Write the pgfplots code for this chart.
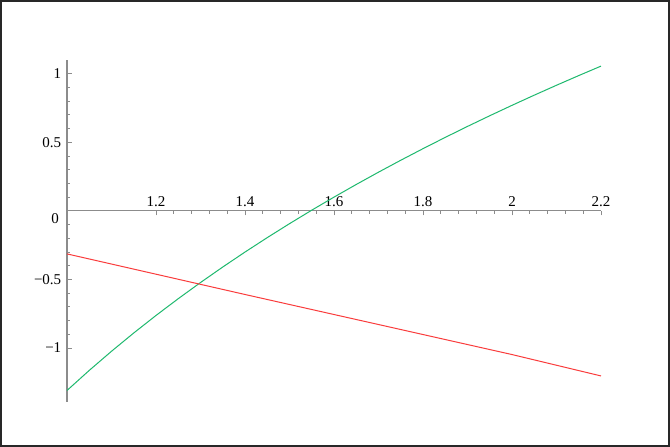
\documentclass[border=0pt]{standalone}
\usepackage{pgfplots}
\pgfplotsset{compat=1.18}
\usepackage{fontspec}
\setmainfont{Liberation Serif}
\definecolor{mgreen}{RGB}{30,185,110}
\definecolor{mred}{RGB}{250,60,60}
\definecolor{axgray}{RGB}{140,140,140}
\definecolor{framec}{RGB}{40,40,40}
\begin{document}
\begin{tikzpicture}[x=1pt,y=1pt]
\useasboundingbox (0,0) rectangle (670,447);
\fill[white] (0,0) rectangle (670,447);
\draw[framec, line width=2pt] (1,1) rectangle (669,446);
\begin{axis}[
  at={(67pt,45pt)}, anchor=south west,
  scale only axis, width=534pt, height=342pt,
  xmin=1, xmax=2.2, ymin=-1.394, ymax=1.10,
  axis x line*=middle, axis y line*=left,
  axis line style={axgray, line width=1.3pt},
  xtick={1.2,1.4,1.6,1.8,2,2.2},
  xticklabels={1.2,1.4,1.6,1.8,2,2.2},
  ytick={-1,-0.5,0,0.5,1},
  yticklabels={−1,−0.5,,0.5,1},
  minor x tick num=4, minor y tick num=4,
  tick align=center,
  major tick length=4.5pt, minor tick length=3pt,
  every tick/.style={axgray, line width=0.9pt},
  major x tick style={yshift=-2.25pt},
  minor x tick style={yshift=-1.5pt},
  major y tick style={xshift=2.25pt},
  minor y tick style={xshift=1.5pt},
  tick label style={font=\fontsize{15}{17}\selectfont},
  /pgf/number format/assume math mode=true,
  xticklabel style={anchor=south, yshift=3pt},
  yticklabel style={anchor=east},
  clip=false,
]
\addplot[mgreen, line width=1pt] coordinates {
(1.00,-1.3100) (1.05,-1.1636) (1.10,-1.0241) (1.15,-0.8907) (1.20,-0.7630)
(1.25,-0.6406) (1.30,-0.5229) (1.35,-0.4097) (1.40,-0.3006) (1.45,-0.1953)
(1.50,-0.0936) (1.55,0.0048) (1.60,0.1000) (1.65,0.1923) (1.70,0.2819)
(1.75,0.3689) (1.80,0.4534) (1.85,0.5356) (1.90,0.6156) (1.95,0.6935)
(2.00,0.7694) (2.05,0.8435) (2.10,0.9158) (2.15,0.9864) (2.20,1.0554)
};
\addplot[mred, line width=1pt] coordinates {
(1.00,-0.314) (1.20,-0.462) (1.40,-0.610) (1.60,-0.756) (1.80,-0.902)
(2.00,-1.048) (2.20,-1.204)
};
\node[anchor=north east, inner sep=0pt, font=\fontsize{15}{17}\selectfont, xshift=-8pt, yshift=-2pt] at (axis cs:1,0) {0};
\end{axis}
\end{tikzpicture}
\end{document}
